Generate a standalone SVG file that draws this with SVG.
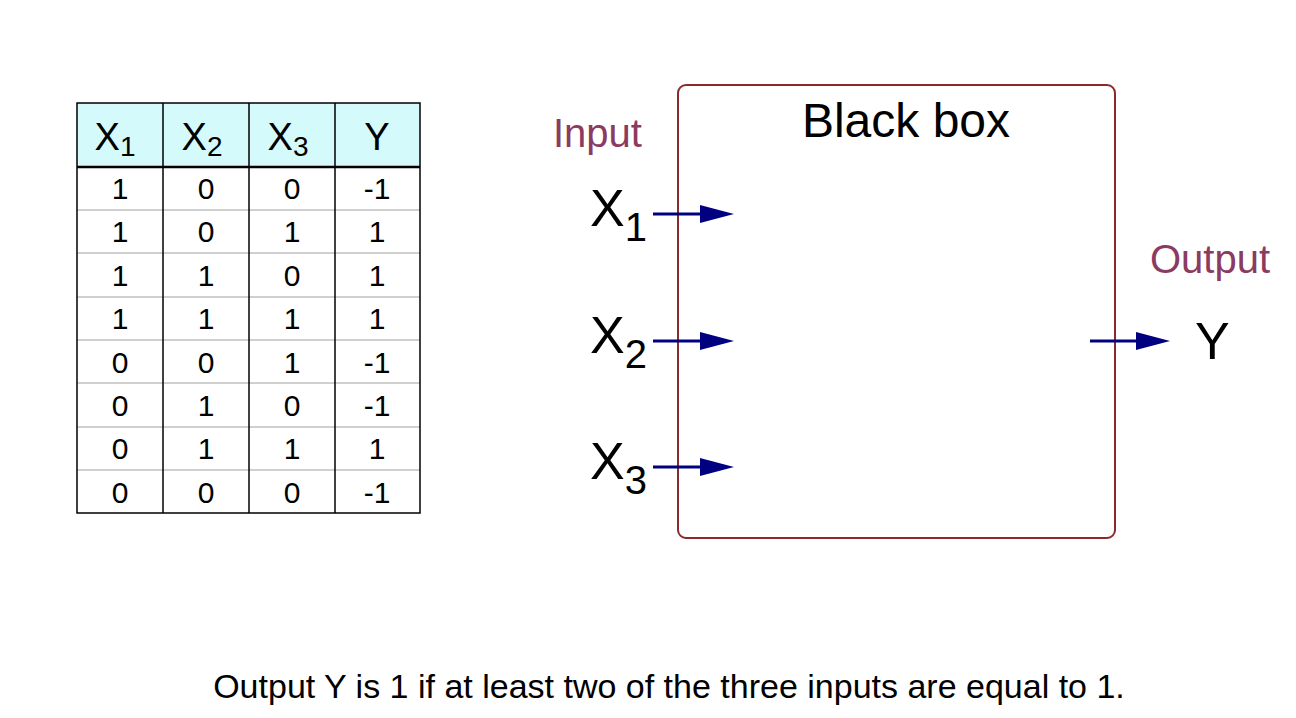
<svg xmlns="http://www.w3.org/2000/svg" width="1296" height="718" viewBox="0 0 1296 718">
<style>
text{font-family:"Liberation Sans",Arial,sans-serif;fill:#000}
.c{font-size:30px;text-anchor:middle}
.h{font-size:38px;text-anchor:middle}
.lab{font-size:40px;fill:#8b3a62}
.big{font-size:52px}
.g{stroke:#a0a0a0;stroke-width:1}
.k{stroke:#000;stroke-width:1.5}
.con{stroke:#000080;stroke-width:3;fill:none}
</style>
<defs><marker id="a" markerWidth="34" markerHeight="18" refX="2" refY="9" orient="auto" markerUnits="userSpaceOnUse"><path d="M0,0 L34,9 L0,18 z" fill="#000080"/></marker></defs>
<rect width="1296" height="718" fill="#fff"/>
<g id="table">
<rect x="77" y="103" width="343" height="64" fill="#d4fafc"/>
<g class="g">
<line x1="77" y1="210" x2="420" y2="210"/><line x1="77" y1="253" x2="420" y2="253"/><line x1="77" y1="297" x2="420" y2="297"/><line x1="77" y1="340" x2="420" y2="340"/><line x1="77" y1="383" x2="420" y2="383"/><line x1="77" y1="427" x2="420" y2="427"/><line x1="77" y1="470" x2="420" y2="470"/>
</g>
<g class="k" fill="none">
<rect x="77" y="103" width="343" height="410"/>
<line x1="77" y1="167" x2="420" y2="167" stroke-width="2.5"/>
<line x1="163" y1="103" x2="163" y2="513"/><line x1="249" y1="103" x2="249" y2="513"/><line x1="335" y1="103" x2="335" y2="513"/>
</g>
<text class="h" x="115" y="150">X<tspan font-size="28" dy="6">1</tspan></text>
<text class="h" x="202" y="150">X<tspan font-size="28" dy="6">2</tspan></text>
<text class="h" x="288" y="150">X<tspan font-size="28" dy="6">3</tspan></text>
<text class="h" x="377" y="150">Y</text>
<g class="c">
<text x="120" y="199">1</text><text x="206" y="199">0</text><text x="292" y="199">0</text><text x="377" y="199">-1</text>
<text x="120" y="242">1</text><text x="206" y="242">0</text><text x="292" y="242">1</text><text x="377" y="242">1</text>
<text x="120" y="286">1</text><text x="206" y="286">1</text><text x="292" y="286">0</text><text x="377" y="286">1</text>
<text x="120" y="329">1</text><text x="206" y="329">1</text><text x="292" y="329">1</text><text x="377" y="329">1</text>
<text x="120" y="373">0</text><text x="206" y="373">0</text><text x="292" y="373">1</text><text x="377" y="373">-1</text>
<text x="120" y="416">0</text><text x="206" y="416">1</text><text x="292" y="416">0</text><text x="377" y="416">-1</text>
<text x="120" y="459">0</text><text x="206" y="459">1</text><text x="292" y="459">1</text><text x="377" y="459">1</text>
<text x="120" y="503">0</text><text x="206" y="503">0</text><text x="292" y="503">0</text><text x="377" y="503">-1</text>
</g>
</g>
<g id="blackbox">
<rect x="678" y="85" width="437" height="453" rx="8" fill="none" stroke="#8b2a2a" stroke-width="2"/>
<text x="906" y="137" font-size="48" text-anchor="middle">Black box</text>
</g>
<g id="input-label"><text class="lab" x="553" y="147">Input</text></g>
<g id="output-label"><text class="lab" x="1150" y="273">Output</text></g>
<g id="x1"><text class="big" x="590" y="226">X<tspan font-size="40" dy="15">1</tspan></text></g>
<g id="x2"><text class="big" x="590" y="353">X<tspan font-size="40" dy="15">2</tspan></text></g>
<g id="x3"><text class="big" x="590" y="479">X<tspan font-size="40" dy="15">3</tspan></text></g>
<g id="y"><text class="big" x="1195" y="359">Y</text></g>
<g id="connectors">
<path class="con" d="M653,214 H702" marker-end="url(#a)"/>
<path class="con" d="M653,341 H702" marker-end="url(#a)"/>
<path class="con" d="M653,467 H702" marker-end="url(#a)"/>
<path class="con" d="M1090,341 H1138" marker-end="url(#a)"/>
</g>
<text x="669" y="698" font-size="34" text-anchor="middle">Output Y is 1 if at least two of the three inputs are equal to 1.</text>
</svg>
